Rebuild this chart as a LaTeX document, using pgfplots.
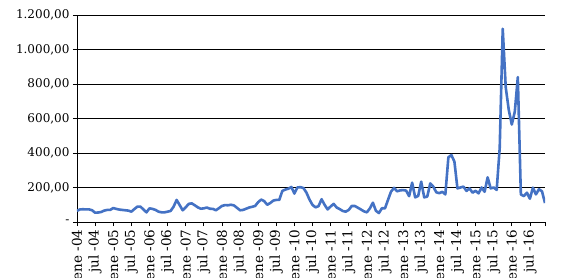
\documentclass[border=0pt]{standalone}
\usepackage{fontspec}
\setmainfont{DejaVu Serif}
\usepackage{pgfplots}
\pgfplotsset{compat=1.18}
\definecolor{serieblue}{RGB}{68,114,196}
\begin{document}
\begin{tikzpicture}
\begin{axis}[
  at={(0,0)}, anchor=south west,
  scale only axis,
  width=468bp, height=207bp,
  xmin=0, xmax=155, ymin=0, ymax=1200,
  axis lines*=left,
  axis line style={-,black,line width=0.8bp},
  tick align=outside,
  major tick length=4bp,
  tick style={black,line width=0.8bp},
  ymajorgrids,
  grid style={black,line width=0.8bp},
  ytick={0,200,400,600,800,1000,1200},
  yticklabels={{-\hspace{13bp}},{200,00},{400,00},{600,00},{800,00},{1.000,00},{1.200,00}},
  xtick={0,6,...,150,155},
  xticklabels={ene -04,jul -04,ene -05,jul -05,ene -06,jul -06,ene -07,jul -07,ene -08,jul -08,ene -09,jul -09,ene -10,jul -10,ene -11,jul -11,ene -12,jul -12,ene -13,jul -13,ene -14,jul -14,ene -15,jul -15,ene -16,jul -16,{}},
  xticklabel style={rotate=90, anchor=east, font=\fontsize{13.5bp}{15bp}\selectfont},
  yticklabel style={font=\fontsize{12bp}{14bp}\selectfont},
]
\addplot[serieblue, line width=2.6bp, line join=round] table {
x y
0 65
1 73
2 74
3 73
4 73
5 68
6 54
7 55
8 58
9 66
10 70
11 70
12 81
13 76
14 72
15 70
16 68
17 66
18 60
19 75
20 89
21 89
22 73
23 56
24 79
25 76
26 70
27 60
28 56
29 56
30 60
31 64
32 89
33 128
34 98
35 68
36 85
37 105
38 108
39 97
40 85
41 77
42 79
43 84
44 77
45 76
46 68
47 80
48 93
49 98
50 97
51 100
52 96
53 82
54 68
55 70
56 77
57 84
58 88
59 93
60 115
61 130
62 121
63 100
64 110
65 124
66 128
67 128
68 180
69 188
70 193
71 203
72 165
73 200
74 202
75 197
76 170
77 130
78 99
79 85
80 92
81 132
82 100
83 73
84 90
85 105
86 84
87 75
88 64
89 60
90 70
91 93
92 93
93 83
94 73
95 62
96 56
97 79
98 112
99 65
100 52
101 80
102 79
103 128
104 176
105 198
106 178
107 183
108 185
109 182
110 150
111 228
112 143
113 151
114 234
115 143
116 147
117 224
118 205
119 172
120 167
121 175
122 160
123 375
124 388
125 350
126 195
127 200
128 205
129 180
130 195
131 170
132 181
133 166
134 200
135 175
136 259
137 195
138 200
139 186
140 430
141 1120
142 780
143 650
144 565
145 640
146 840
147 160
148 150
149 170
150 135
151 199
152 160
153 190
154 178
155 110
};
\end{axis}
\pgfresetboundingbox
\path (-77bp,-56bp) rectangle (504bp,222bp);
\end{tikzpicture}
\end{document}
